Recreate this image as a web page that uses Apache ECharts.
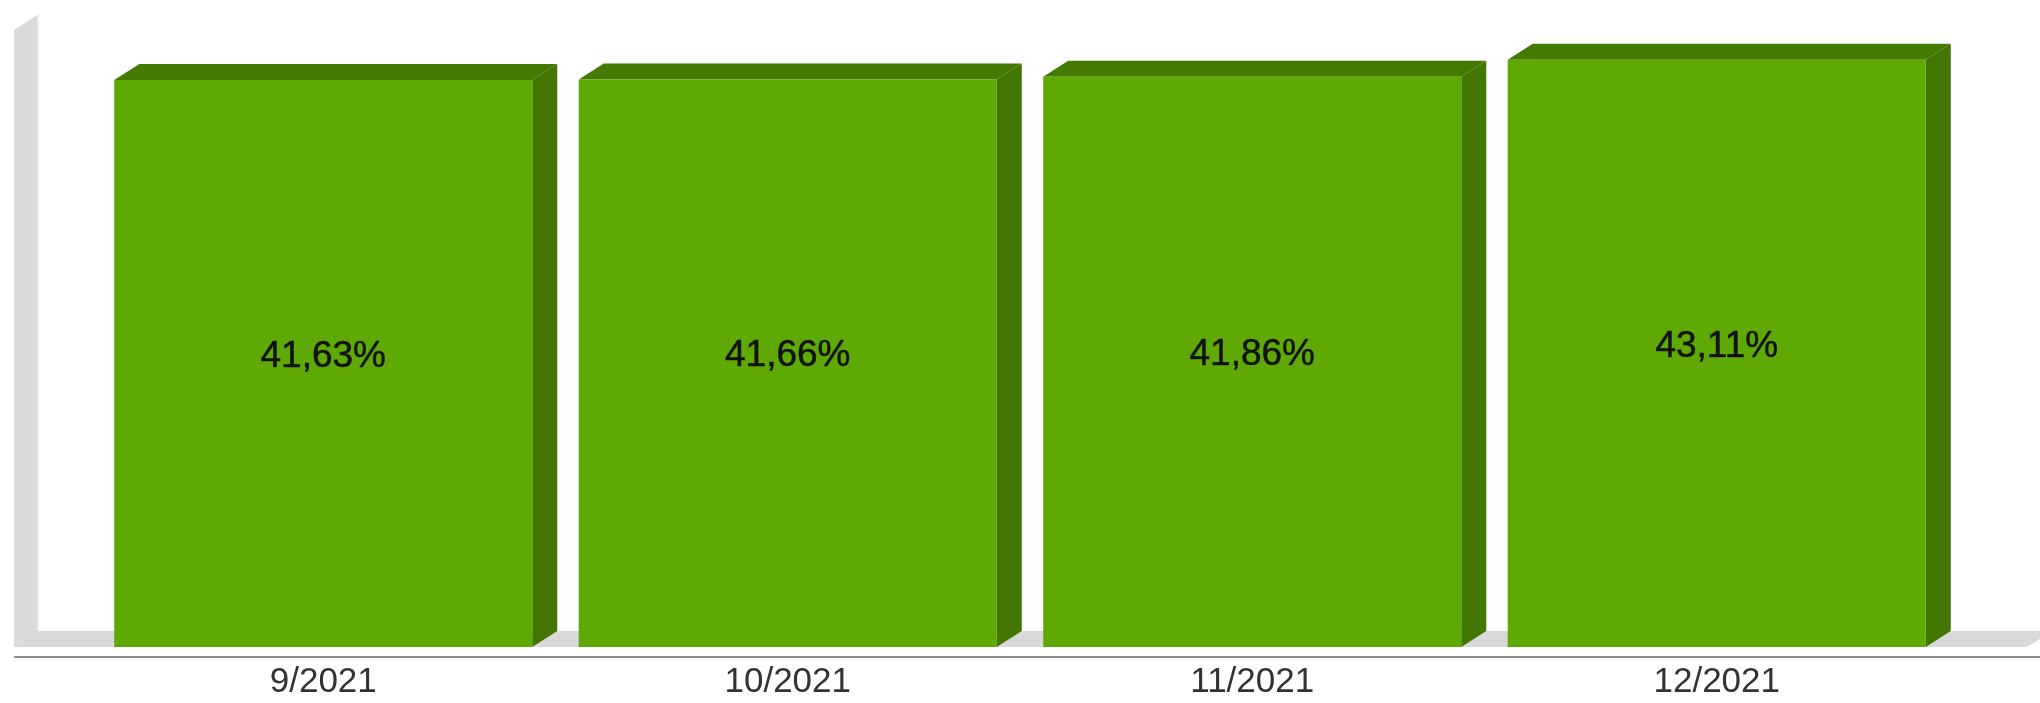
<!DOCTYPE html>
<html>
<head>
<meta charset="utf-8">
<script src="https://cdn.jsdelivr.net/npm/echarts@6/dist/echarts.min.js"></script>
<style>
  html, body { margin: 0; padding: 0; background: #ffffff; }
  #chart { width: 2040px; height: 703px; }
</style>
</head>
<body>
<div id="chart"></div>
<script>
const categories = ['9/2021', '10/2021', '11/2021', '12/2021'];
const values = [41.63, 41.66, 41.86, 43.11];
const axisMin = 0;
const axisMax = 45;

const FRONT = '#5fa904';
const TOP = '#447a00';
const SIDE = '#427600';
const DX = 25, DY = 16;
const FONT = '"Liberation Sans", Arial, sans-serif';

function fmt(v) { return v.toFixed(2).replace('.', ',') + '%'; }

function renderDecor(params, api) {
  const cs = params.coordSys;
  const W = api.getWidth();
  const L = cs.x - 77;
  const B = cs.y + cs.height;
  const T = cs.y - 4;
  return {
    type: 'group',
    children: [
      { type: 'polygon', shape: { points: [[L, T], [L + DX, T - DY], [L + DX, B - DY], [L, B]] },
        style: { fill: '#dadada' } },
      { type: 'line', shape: { x1: L + DX - 1, y1: T - DY + 1, x2: L + DX - 1, y2: B - DY },
        style: { stroke: '#ececec', lineWidth: 2 } },
      { type: 'polygon', shape: { points: [[L, B], [L + DX, B - DY], [W + 12, B - DY], [W - 13, B]] },
        style: { fill: '#d9d9d9' } },
      { type: 'line', shape: { x1: L, y1: B + 10, x2: W, y2: B + 10 },
        style: { stroke: '#8c8c8c', lineWidth: 2 } }
    ]
  };
}

function renderBar(params, api) {
  const i = api.value(0);
  const v = api.value(1);
  const top = api.coord([i, v]);
  const base = api.coord([i, 0]);
  const band = api.size([1, 0])[0];
  const w = band * 0.9;
  const x0 = top[0] - w / 2, x1 = top[0] + w / 2;
  const y0 = top[1], y1 = base[1];
  return {
    type: 'group',
    children: [
      { type: 'polygon', shape: { points: [[x1, y0], [x1 + DX, y0 - DY], [x1 + DX, y1 - DY], [x1, y1]] },
        style: { fill: SIDE } },
      { type: 'polygon', shape: { points: [[x0, y0], [x0 + DX, y0 - DY], [x1 + DX, y0 - DY], [x1, y0]] },
        style: { fill: TOP } },
      { type: 'rect', shape: { x: x0, y: y0, width: w, height: y1 - y0 },
        style: { fill: FRONT } },
      { type: 'text', x: top[0], y: (y0 - DY + y1) / 2 + 1, z2: 10,
        style: { text: fmt(v), fontFamily: FONT, fontSize: 37, fill: '#111111',
                 stroke: '#1a2a0a', lineWidth: 0.6,
                 align: 'center', verticalAlign: 'middle' } }
    ]
  };
}

const chart = echarts.init(document.getElementById('chart'), null, { renderer: 'canvas' });
chart.setOption({
  animation: false,
  backgroundColor: '#ffffff',
  grid: { left: 91, right: 91, top: 34, bottom: 56 },
  xAxis: {
    type: 'category',
    data: categories,
    offset: 10,
    axisLine: { show: false },
    axisTick: { show: false },
    axisLabel: { fontSize: 35, fontFamily: FONT, color: '#333333', margin: 8 }
  },
  yAxis: {
    type: 'value',
    min: axisMin,
    max: axisMax,
    show: false,
    splitLine: { show: false }
  },
  series: [
    { type: 'custom', renderItem: renderDecor, data: [[0, 0]], silent: true, z: 1, clip: false },
    { type: 'custom', renderItem: renderBar, data: values.map((v, i) => [i, v]),
      encode: { x: 0, y: 1 }, z: 2, clip: false }
  ]
});
</script>
</body>
</html>
